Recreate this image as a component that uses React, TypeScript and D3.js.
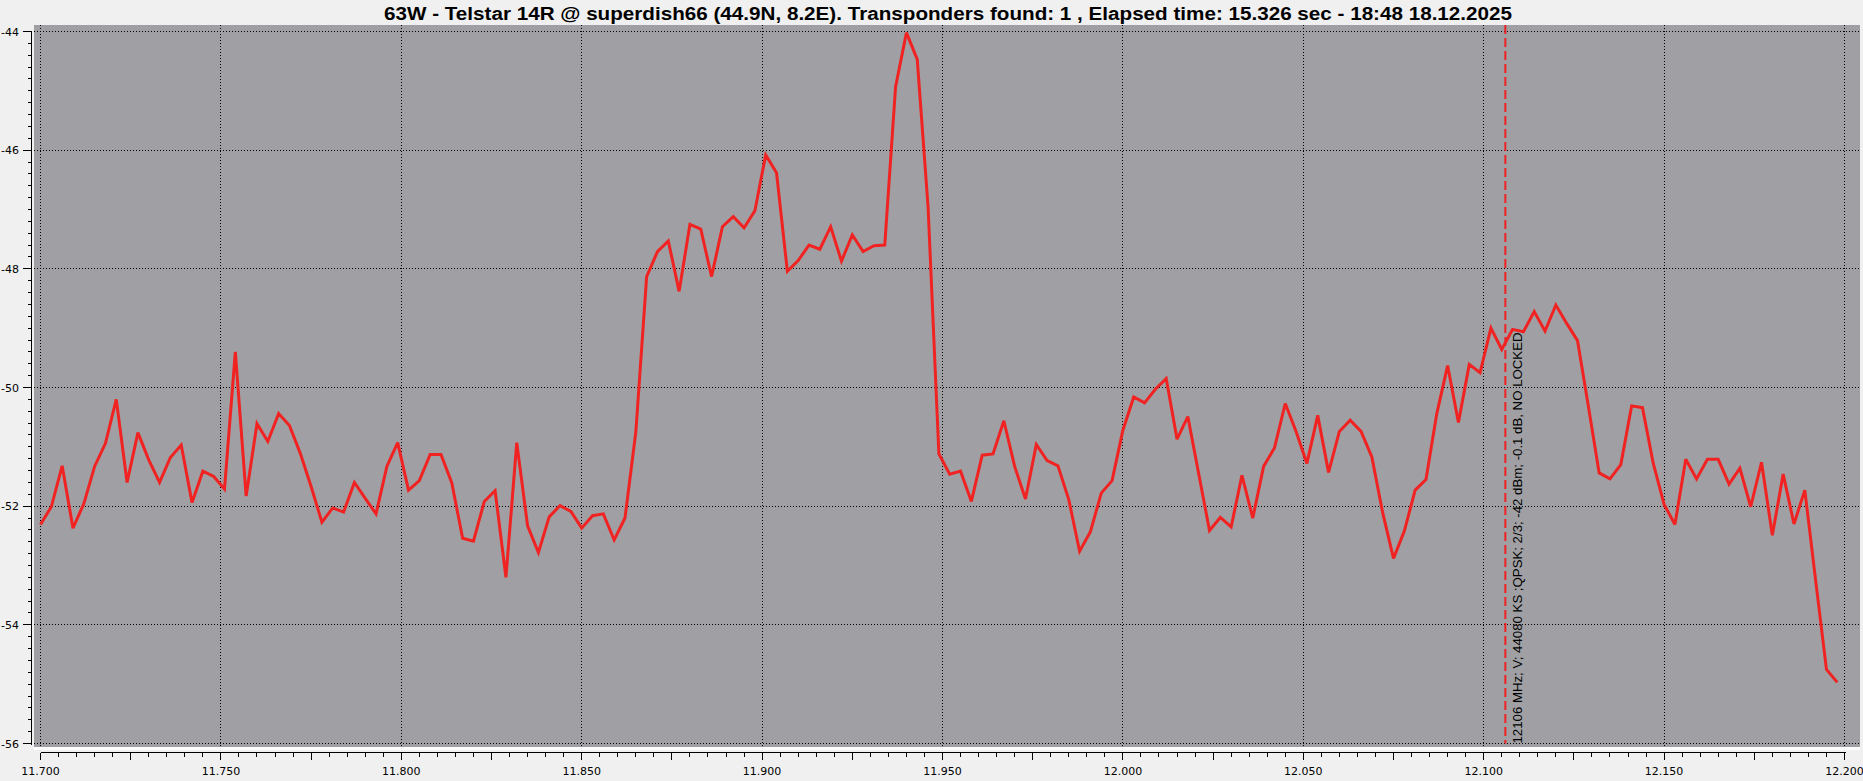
import React from 'react';
import * as d3 from 'd3';

const TITLE =
  '63W - Telstar 14R @ superdish66 (44.9N, 8.2E). Transponders found: 1 , Elapsed time: 15.326 sec - 18:48 18.12.2025';

const FREQ_MHZ = [
  11700, 11703, 11706, 11709, 11712, 11715, 11718, 11721, 11724, 11727,
  11730, 11733, 11736, 11739, 11742, 11745, 11748, 11751, 11754, 11757,
  11760, 11763, 11766, 11769, 11772, 11775, 11778, 11781, 11784, 11787,
  11790, 11793, 11796, 11799, 11802, 11805, 11808, 11811, 11814, 11817,
  11820, 11823, 11826, 11829, 11832, 11835, 11838, 11841, 11844, 11847,
  11850, 11853, 11856, 11859, 11862, 11865, 11868, 11871, 11874, 11877,
  11880, 11883, 11886, 11889, 11892, 11895, 11898, 11901, 11904, 11907,
  11910, 11913, 11916, 11919, 11922, 11925, 11928, 11931, 11934, 11937,
  11940, 11943, 11946, 11949, 11952, 11955, 11958, 11961, 11964, 11967,
  11970, 11973, 11976, 11979, 11982, 11985, 11988, 11991, 11994, 11997,
  12000, 12003, 12006, 12009, 12012, 12015, 12018, 12021, 12024, 12027,
  12030, 12033, 12036, 12039, 12042, 12045, 12048, 12051, 12054, 12057,
  12060, 12063, 12066, 12069, 12072, 12075, 12078, 12081, 12084, 12087,
  12090, 12093, 12096, 12099, 12102, 12105, 12108, 12111, 12114, 12117,
  12120, 12123, 12126, 12129, 12132, 12135, 12138, 12141, 12144, 12147,
  12150, 12153, 12156, 12159, 12162, 12165, 12168, 12171, 12174, 12177,
  12180, 12183, 12186, 12189, 12192, 12195, 12198,
];

const LEVEL_DBM = [
  -52.31, -52.01, -51.32, -52.37, -51.96, -51.33, -50.94, -50.2, -51.6, -50.76,
  -51.22, -51.6, -51.18, -50.97, -51.94, -51.41, -51.5, -51.71, -49.4, -51.83,
  -50.61, -50.91, -50.44, -50.64, -51.11, -51.67, -52.27, -52.03, -52.1, -51.6,
  -51.87, -52.13, -51.33, -50.93, -51.73, -51.57, -51.13, -51.13, -51.61, -52.54,
  -52.59, -51.92, -51.74, -53.2, -50.93, -52.33, -52.78, -52.18, -51.99, -52.09,
  -52.37, -52.16, -52.13, -52.57, -52.2, -50.75, -48.13, -47.71, -47.53, -48.38,
  -47.25, -47.33, -48.13, -47.29, -47.12, -47.31, -47.02, -46.08, -46.38, -48.04,
  -47.86, -47.6, -47.67, -47.29, -47.87, -47.43, -47.71, -47.61, -47.6, -44.93,
  -44.02, -44.47, -46.95, -51.12, -51.46, -51.41, -51.92, -51.14, -51.12, -50.56,
  -51.33, -51.88, -50.96, -51.23, -51.32, -51.89, -52.76, -52.43, -51.78, -51.57,
  -50.72, -50.16, -50.26, -50.03, -49.85, -50.87, -50.49, -51.45, -52.41, -52.19,
  -52.35, -51.48, -52.2, -51.33, -51.02, -50.27, -50.74, -51.28, -50.47, -51.43,
  -50.74, -50.55, -50.74, -51.17, -52.11, -52.88, -52.42, -51.73, -51.55, -50.44,
  -49.63, -50.59, -49.61, -49.75, -49.0, -49.36, -49.02, -49.06, -48.72, -49.05,
  -48.61, -48.92, -49.21, -50.31, -51.44, -51.54, -51.3, -50.31, -50.34, -51.28,
  -51.97, -52.31, -51.21, -51.54, -51.21, -51.21, -51.63, -51.36, -52.01, -51.26,
  -52.49, -51.46, -52.3, -51.73, -53.25, -54.75, -54.97,
];

const X_TICK_VALUES = [11.7, 11.75, 11.8, 11.85, 11.9, 11.95, 12.0, 12.05, 12.1, 12.15, 12.2];
const X_TICK_LABELS = ['11.700', '11.750', '11.800', '11.850', '11.900', '11.950', '12.000', '12.050', '12.100', '12.150', '12.200'];
const Y_TICK_VALUES = [-44, -46, -48, -50, -52, -54, -56];
const Y_TICK_LABELS = ['-44', '-46', '-48', '-50', '-52', '-54', '-56'];

const TP_FREQ_MHZ = 12106;
const TP_LABEL = '12106 MHz; V; 44080 KS ;QPSK; 2/3; -42 dBm; -0.1 dB, NO LOCKED';

const W = 1863;
const H = 781;
const AXIS_FONT = "'DejaVu Sans', Verdana, sans-serif";

const crisp = (v: number) => Math.round(v - 0.5) + 0.5;

export default function App() {
  const x = d3.scaleLinear().domain([11.7, 12.2]).range([40.5, 1844.5]);
  const y = d3.scaleLinear().domain([-56, -44]).range([743.5, 31.5]);

  const line = d3
    .line<number>()
    .x((_d, i) => x(FREQ_MHZ[i] / 1000))
    .y((d) => y(d));

  const plotLeft = 34;
  const plotRight = 1860;
  const plotTop = 25;
  const plotBottom = 747;

  const xMinor = d3.range(0, 101).map((i) => ({ v: 11.7 + i * 0.005, major: i % 5 === 0 }));
  const yMinor = d3.range(0, 61).map((i) => ({ v: -56 + i * 0.2, major: i % 10 === 0 }));

  const axisY = 752.5;
  const axisX = 31.5;
  const tpX = x(TP_FREQ_MHZ / 1000);

  return (
    <svg
      width={W}
      height={H}
      viewBox={`0 0 ${W} ${H}`}
      style={{ position: 'absolute', left: 0, top: 0, display: 'block' }}
    >
      <rect x={0} y={0} width={W} height={H} fill="#f0f0f0" />
      <text
        x={948}
        y={19.5}
        textAnchor="middle"
        fontFamily="'Liberation Sans', Arial, sans-serif"
        fontWeight="bold"
        fontSize={18}
        fill="#000"
        textLength={1128}
        lengthAdjust="spacingAndGlyphs"
      >
        {TITLE}
      </text>

      <rect x={plotLeft} y={plotTop} width={plotRight - plotLeft} height={plotBottom - plotTop} fill="#a0a0a4" />
      <rect x={plotLeft} y={plotBottom} width={plotRight - plotLeft} height={3} fill="#ffffff" />

      <g stroke="#000" strokeWidth={1} strokeDasharray="1,2">
        {X_TICK_VALUES.map((v) => (
          <line key={'gx' + v} x1={crisp(x(v))} x2={crisp(x(v))} y1={plotTop} y2={plotBottom} />
        ))}
        {Y_TICK_VALUES.map((v) => (
          <line key={'gy' + v} x1={plotLeft} x2={plotRight} y1={crisp(y(v))} y2={crisp(y(v))} />
        ))}
      </g>

      <line
        x1={tpX}
        x2={tpX}
        y1={plotTop}
        y2={y(-56)}
        stroke="#ee2222"
        strokeWidth={2}
        strokeDasharray="9,4"
      />

      <path
        d={line(LEVEL_DBM) || ''}
        fill="none"
        stroke="#f02222"
        strokeWidth={3}
        strokeLinejoin="miter"
        strokeMiterlimit={3}
      />

      <text
        transform={`translate(${tpX + 16.5},${y(-56)}) rotate(-90)`}
        fontFamily="'Liberation Sans', Arial, sans-serif"
        fontSize={13.5}
        fill="#000"
        textLength={411}
        lengthAdjust="spacingAndGlyphs"
      >
        {TP_LABEL}
      </text>

      <g shapeRendering="crispEdges" stroke="#000" strokeWidth={1}>
        <line x1={crisp(x(11.7))} x2={crisp(x(12.2)) + 1} y1={axisY} y2={axisY} />
        {xMinor.map((t, i) => (
          <line
            key={'tx' + i}
            x1={crisp(x(t.v))}
            x2={crisp(x(t.v))}
            y1={axisY}
            y2={axisY + (t.major ? 7 : 4)}
          />
        ))}
        <line x1={axisX} x2={axisX} y1={crisp(y(-44))} y2={crisp(y(-56)) + 1} />
        {yMinor.map((t, i) => (
          <line
            key={'ty' + i}
            x1={axisX - (t.major ? 9 : 4)}
            x2={axisX}
            y1={crisp(y(t.v))}
            y2={crisp(y(t.v))}
          />
        ))}
      </g>

      <g fontFamily={AXIS_FONT} fontSize={11} fill="#000">
        {X_TICK_VALUES.map((v, i) => (
          <text key={'lx' + v} x={x(v)} y={775} textAnchor="middle">
            {X_TICK_LABELS[i]}
          </text>
        ))}
        {Y_TICK_VALUES.map((v, i) => (
          <text key={'ly' + v} x={19} y={y(v) + 4} textAnchor="end">
            {Y_TICK_LABELS[i]}
          </text>
        ))}
      </g>
    </svg>
  );
}
